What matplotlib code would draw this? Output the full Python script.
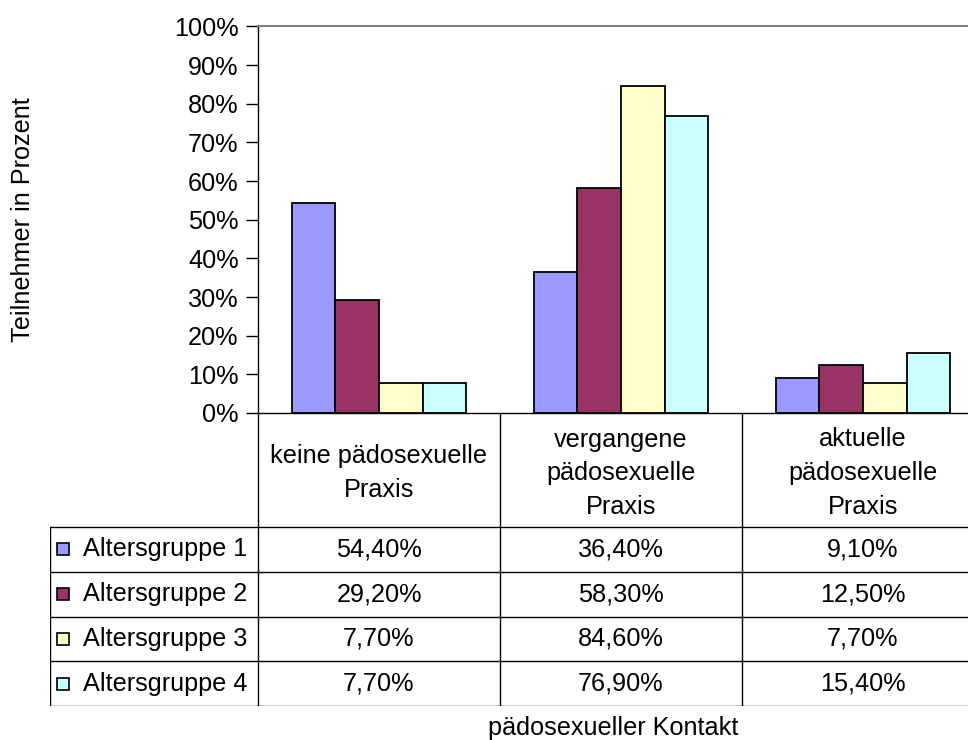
import matplotlib.pyplot as plt
import numpy as np

# Daten
kategorien = ['keine pädosexuelle\nPraxis', 'vergangene\npädosexuelle\nPraxis', 'aktuelle\npädosexuelle\nPraxis']
gruppen = ['Altersgruppe 1', 'Altersgruppe 2', 'Altersgruppe 3', 'Altersgruppe 4']
werte = [
    [54.4, 36.4, 9.1],
    [29.2, 58.3, 12.5],
    [7.7, 84.6, 7.7],
    [7.7, 76.9, 15.4],
]
farben = ['#9999FF', '#993366', '#FFFFCC', '#CCFFFF']
y_ticks = [0, 10, 20, 30, 40, 50, 60, 70, 80, 90, 100]

plt.rcParams['font.family'] = ['Liberation Sans', 'DejaVu Sans']
fs = 18.2

W, H = 968, 740
fig = plt.figure(figsize=(W / 100, H / 100), dpi=100)

# Diagrammbereich (rechte Kante liegt ausserhalb des Bildes wie im Original)
x0, x1, ytop, ybot = 258, 984, 26.5, 413
ax = fig.add_axes([x0 / W, 1 - ybot / H, (x1 - x0) / W, (ybot - ytop) / H])

breite = 0.18
mitte = np.arange(len(kategorien)) + 0.5
for i, (g, f) in enumerate(zip(gruppen, farben)):
    ax.bar(mitte + (i - 1.5) * breite, werte[i], breite, color=f,
           edgecolor='black', linewidth=1.3, zorder=3)

ax.set_xlim(0, 3)
ax.set_ylim(0, 100)
ax.set_yticks(y_ticks)
ax.set_yticklabels([f'{v}%' for v in y_ticks], fontsize=fs)
ax.set_xticks([])
ax.tick_params(axis='y', length=8.5, width=1, pad=5.5)
ax.spines['right'].set_visible(False)
ax.spines['top'].set_color('#808080')
ax.spines['top'].set_linewidth(1.5)
for s in ['left', 'bottom']:
    ax.spines[s].set_linewidth(1)

# Datentabelle unter dem Diagramm
links = 50
tab_unten = 706
tab = fig.add_axes([links / W, 1 - tab_unten / H, (x1 - links) / W, (tab_unten - ybot) / H])
xl = -(x0 - links) / (x1 - x0) * 3
tab.set_xlim(xl, 3)
tab.set_ylim(tab_unten - ybot, 0)
tab.axis('off')

kopf = 527 - ybot
zeile = (tab_unten - 527) / 4
lw = 1
for k in range(3):
    tab.plot([k, k], [0, tab_unten - ybot], color='black', lw=lw)
tab.plot([xl, xl], [kopf, tab_unten - ybot], color='black', lw=lw)
for r in range(5):
    yy = kopf + r * zeile
    tab.plot([xl, 3], [yy, yy], color='black', lw=lw)

for j, k in enumerate(kategorien):
    tab.text(j + 0.5, kopf / 2 + 3, k, ha='center', va='center', fontsize=fs, linespacing=1.5)

px = 3 / (x1 - x0)
for i, g in enumerate(gruppen):
    yy = kopf + (i + 0.5) * zeile
    tab.plot([xl + 13 * px], [yy], marker='s', ms=9, mfc=farben[i], mec='black', mew=1.2)
    tab.text(xl + 33 * px, yy, g, ha='left', va='center', fontsize=fs)
    for j in range(3):
        tab.text(j + 0.5, yy, f'{werte[i][j]:.2f}%'.replace('.', ','),
                 ha='center', va='center', fontsize=fs)

fig.text(613 / W, 1 - 728 / H, 'pädosexueller Kontakt', ha='center', va='center', fontsize=fs)
fig.text(23 / W, 1 - 220 / H, 'Teilnehmer in Prozent', ha='center', va='center',
         rotation=90, fontsize=fs)

fig.savefig('out.png', dpi=100)
